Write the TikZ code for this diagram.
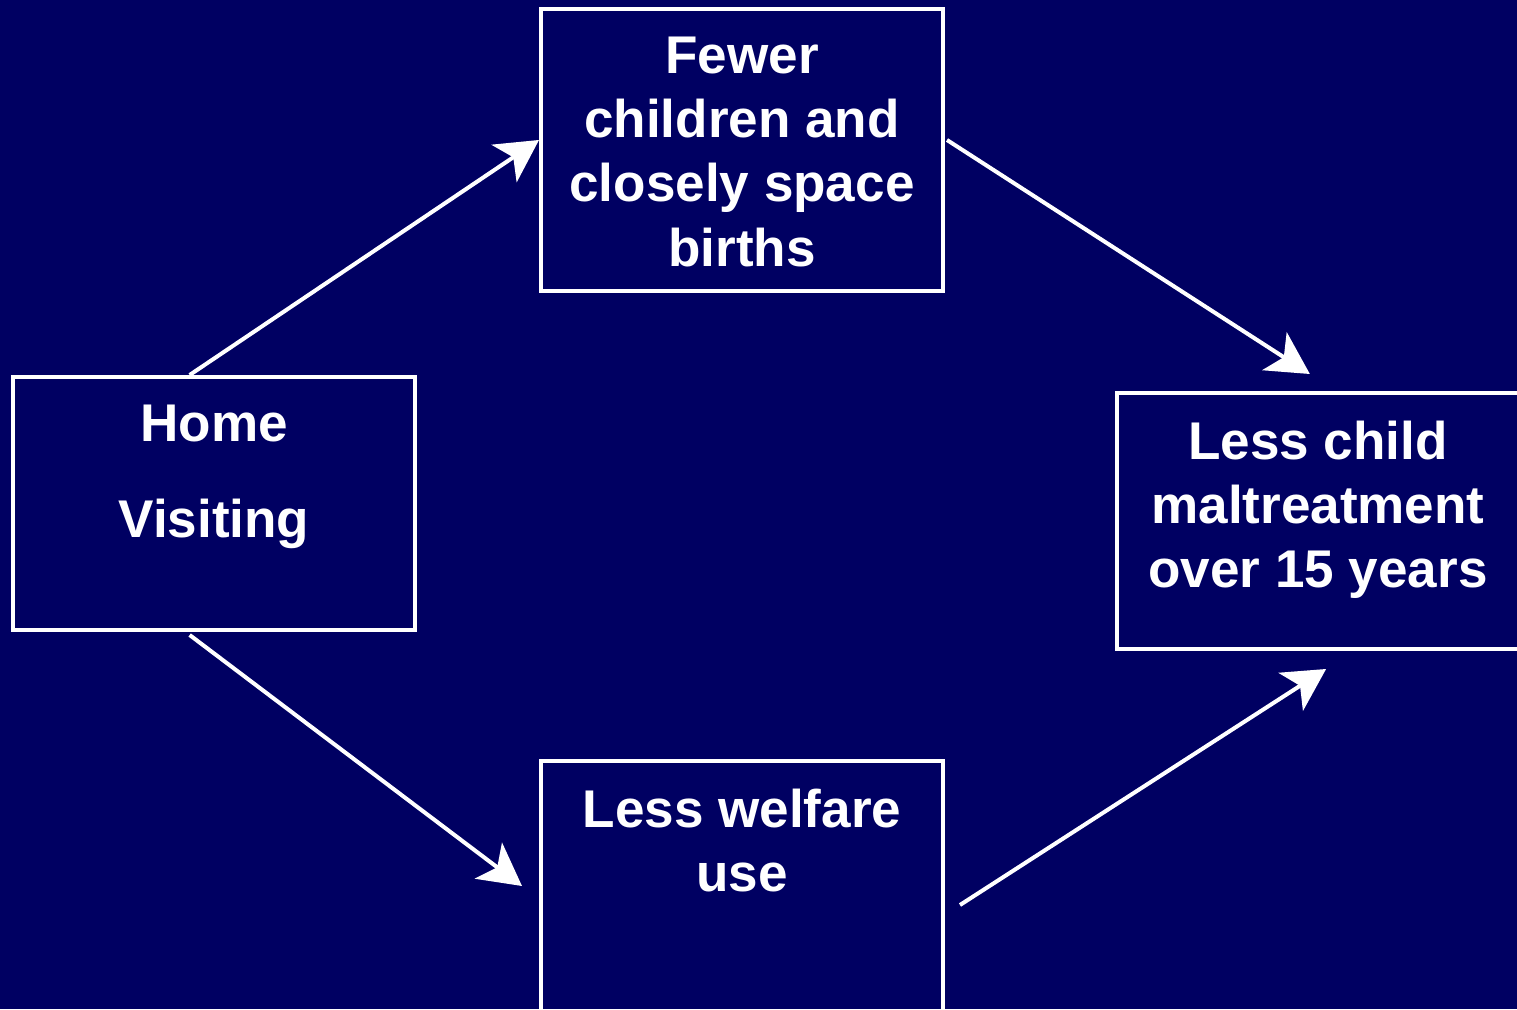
\documentclass[tikz,border=0pt]{standalone}
\usepackage{fontspec}
\setmainfont{Liberation Sans}
\usetikzlibrary{arrows.meta,calc}
\definecolor{slidebg}{RGB}{0,0,98}

\begin{document}
\begin{tikzpicture}[
    box/.style={draw=white, line width=0.04cm, inner sep=0pt, minimum width=4.02cm},
    boxtext/.style={anchor=north, inner sep=0pt, yshift=-0.29cm, text=white, align=center,
        font=\bfseries\fontsize{15.1}{18.3}\selectfont},
    link/.style={draw=white, line width=0.04cm, -{Stealth[length=0.42cm, width=0.45cm, inset=0.11cm]}}]
    \fill[slidebg] (0,0) rectangle (15.17,10.09);
    \useasboundingbox (0,0) rectangle (15.17,10.09);
    \clip (0,0) rectangle (15.17,10.09);
    % boxes
    \node[box, minimum height=2.53cm] (home) at (2.14,5.055) {};
    \node[box, minimum height=2.82cm] (fewer) at (7.42,8.59) {};
    \node[box, minimum height=2.56cm] (maltreat) at (13.18,4.88) {};
    \node[box, minimum height=2.50cm] (welfare) at (7.42,1.23) {};
    \node[boxtext] (hometext) at (home.north) {Home\\[9.1pt]Visiting};
    \node[boxtext] (fewertext) at (fewer.north) {Fewer\\children and\\closely space\\births};
    \node[boxtext] (maltreattext) at (maltreat.north) {Less child\\maltreatment\\over 15 years};
    \node[boxtext] (welfaretext) at (welfare.north) {Less welfare\\use};
    % arrows
    \draw[link] ($(home.north west)!0.44!(home.north east)$) -- ($(fewer.north west)!0.465!(fewer.south west)$);
    \draw[link] ($(fewer.north east)!0.465!(fewer.south east)+(0.02,0)$) -- ($(maltreat.north west)!0.48!(maltreat.north east)+(0,0.17)$);
    \draw[link] ($(home.south west)!0.44!(home.south east)+(0,-0.03)$) -- ($(welfare.west)+(-0.17,0)$);
    \draw[link] ($(welfare.east)+(0.15,-0.19)$) -- ($(maltreat.south west)!0.52!(maltreat.south east)+(0,-0.18)$);
\end{tikzpicture}
\end{document}
